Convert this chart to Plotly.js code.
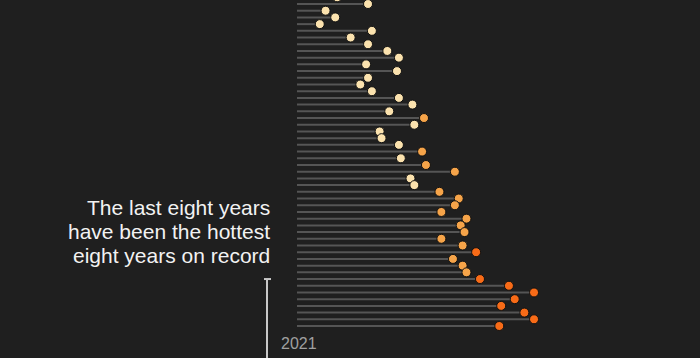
<!DOCTYPE html>
<html>
<head>
<meta charset="utf-8">
<script src="https://cdn.plot.ly/plotly-3.0.1.min.js"></script>
<style>
  html, body { margin: 0; padding: 0; background: #1f1f1f; }
  #chart { width: 700px; height: 358px; }
</style>
</head>
<body>
<div id="chart"></div>
<script>
// Years shown (top of the chart is cropped; 1972 is only a sliver)
const years = [1972,1973,1974,1975,1976,1977,1978,1979,1980,1981,
               1982,1983,1984,1985,1986,1987,1988,1989,1990,1991,
               1992,1993,1994,1995,1996,1997,1998,1999,2000,2001,
               2002,2003,2004,2005,2006,2007,2008,2009,2010,2011,
               2012,2013,2014,2015,2016,2017,2018,2019,2020,2021];
// Global temperature anomaly (°C)
const anomalies = [-0.01,0.15,-0.07,-0.02,-0.10,0.17,0.06,0.15,0.25,0.31,
                   0.14,0.30,0.15,0.11,0.17,0.31,0.38,0.26,0.44,0.39,
                   0.21,0.22,0.31,0.43,0.32,0.45,0.60,0.37,0.39,0.52,
                   0.62,0.60,0.53,0.66,0.63,0.65,0.53,0.64,0.71,0.59,
                   0.64,0.66,0.73,0.88,1.01,0.91,0.84,0.96,1.01,0.83];
const labelYear = 2021;
const bracketStartYear = 2014;
const noteLines = ['The last eight years', 'have been the hottest', 'eight years on record'];

const baseline = -0.218;

function colorFor(v) {
  if (v >= 0.7) return '#f86b17';
  if (v >= 0.4) return '#f6a449';
  return '#fbe2ae';
}

const lx = [], ly = [];
years.forEach((y, i) => {
  lx.push(baseline, anomalies[i], null);
  ly.push(y, y, null);
});

const stems = {
  x: lx, y: ly, type: 'scatter', mode: 'lines',
  line: { color: '#555555', width: 2 },
  hoverinfo: 'skip', showlegend: false
};
const dots = {
  x: anomalies, y: years, type: 'scatter', mode: 'markers',
  marker: {
    size: 9,
    color: anomalies.map(colorFor),
    line: { color: '#111111', width: 1 }
  },
  showlegend: false, cliponaxis: true
};

const H = 358;
const noteAnnotations = noteLines.map((t, i) => ({
  text: t, xref: 'paper', yref: 'paper',
  x: -0.0853, y: 0.352 + (1 - i) * 24 / H,
  xanchor: 'right', yanchor: 'middle', align: 'right', showarrow: false,
  font: { size: 21, color: '#f2f2f2', family: 'Liberation Sans, Arial, sans-serif' }
}));

const layout = {
  width: 700, height: H,
  margin: { l: 297, r: 110, t: 0, b: 0 },
  paper_bgcolor: '#1f1f1f',
  plot_bgcolor: '#1f1f1f',
  xaxis: { range: [baseline, 1.3], visible: false, fixedrange: true },
  yaxis: { range: [2025.77, 1972.404], visible: false, fixedrange: true },
  font: { family: 'Liberation Sans, Arial, sans-serif' },
  shapes: [
    { type: 'line', xref: 'paper', yref: 'y',
      x0: -0.1024, x1: -0.1024, y0: bracketStartYear, y1: 2035,
      line: { color: '#c8c8c8', width: 2 } },
    { type: 'line', xref: 'paper', yref: 'y',
      x0: -0.1126, x1: -0.0887, y0: bracketStartYear, y1: bracketStartYear,
      line: { color: '#c8c8c8', width: 2 } }
  ],
  annotations: noteAnnotations.concat([
    { text: String(labelYear), xref: 'paper', yref: 'y',
      x: -0.062, y: labelYear, yshift: -17, xanchor: 'left', yanchor: 'middle',
      showarrow: false,
      font: { size: 16, color: '#a0a0a0', family: 'Liberation Sans, Arial, sans-serif' } }
  ])
};

Plotly.newPlot('chart', [stems, dots], layout, { staticPlot: true, displayModeBar: false });
</script>
</body>
</html>
